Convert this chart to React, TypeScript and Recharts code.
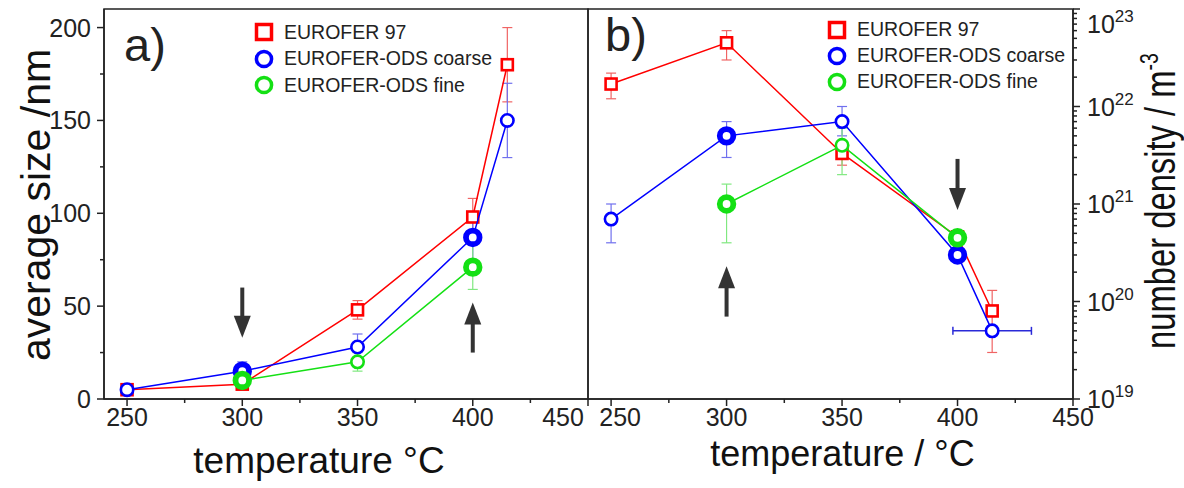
import React from 'react'
import {
  ErrorBar,
  Legend,
  ReferenceArea,
  ReferenceLine,
  Scatter,
  ScatterChart,
  XAxis,
  YAxis,
} from 'recharts'

// Two-panel figure: a) average precipitate size, b) number density (log),
// both against annealing temperature. Each panel is its own ScatterChart,
// butted together so the frames share the divider at x = 588.

const FONT = '"Liberation Sans", Arial, Helvetica, sans-serif'
const INK = '#222'
const RED = '#ff0000'
const BLUE = '#0000ff'
const GREEN = '#14e014'

const NAMES = ['EUROFER 97', 'EUROFER-ODS coarse', 'EUROFER-ODS fine']

// temperatures (°C)
const T_ALL = [250, 300, 350, 400, 415]
const T_FINE = [300, 350, 400]
// the ODS samples marked by the arrows are drawn with heavy rings
const BOLD_T = [300, 400]

// a) average size /nm  (symmetric errors)
const SIZE_E97 = [5, 8, 48, 98, 180]
const SIZE_E97_ERR = [0, 1, 5, 10, 20]
const SIZE_COARSE = [5, 15, 28, 87, 150]
const SIZE_COARSE_ERR = [1, 5, 7, 12, 20]
const SIZE_FINE = [10, 20, 71]
const SIZE_FINE_ERR = [3, 5, 12]

// b) number density / m^-3  (lower and upper error bounds)
const DENS_E97 = [1.7e22, 4.5e22, 3.3e21, 4.6e20, 8e19]
const DENS_E97_LO = [1.2e22, 3e22, 2.5e21, 4e20, 3e19]
const DENS_E97_HI = [2.2e22, 6e22, 4e21, 5.2e20, 1.3e20]
const DENS_COARSE = [7e20, 5e21, 7e21, 3e20, 5e19]
const DENS_COARSE_LO = [4e20, 3e21, 5e21, 2.6e20, 5e19]
const DENS_COARSE_HI = [1e21, 7e21, 1e22, 3.5e20, 5e19]
const DENS_COARSE_T_ERR = [0, 0, 0, 0, 17]
const DENS_FINE = [1e21, 4e21, 4.5e20]
const DENS_FINE_LO = [4e20, 2e21, 4e20]
const DENS_FINE_HI = [1.6e21, 6e21, 5.1e20]

// arrows: temperature, tail value, tip value
const SIZE_ARROWS = [
  { t: 300, from: 60, to: 33 },
  { t: 400, from: 25, to: 52 },
]
const DENS_ARROWS = [
  { t: 300, from: 7e19, to: 2.3e20 },
  { t: 400, from: 2.9e21, to: 8.7e20 },
]

// axes
const X_MAJOR = [250, 300, 350, 400, 450]
const X_MINOR = [275, 325, 375, 425]
const SIZE_MAJOR = [0, 50, 100, 150, 200]
const SIZE_MINOR = [25, 75, 125, 175]
const DENS_MAJOR = [1e19, 1e20, 1e21, 1e22, 1e23]
const DENS_MINOR_MULTS = [2, 3, 4, 5, 6, 7, 8, 9]

const X_TICKS = [...X_MAJOR, ...X_MINOR].sort((a, b) => a - b)
const SIZE_TICKS = [...SIZE_MAJOR, ...SIZE_MINOR].sort((a, b) => a - b)
const DENS_TICKS = [
  ...DENS_MAJOR,
  ...DENS_MAJOR.slice(0, -1).flatMap((d) => DENS_MINOR_MULTS.map((m) => m * d)),
].sort((a, b) => a - b)

const sizeRows = (temps: number[], vals: number[], errs: number[]) =>
  temps.map((t, i) => ({ t, v: vals[i], err: errs[i] }))

const densRows = (temps: number[], vals: number[], lo: number[], hi: number[], tErr?: number[]) =>
  temps.map((t, i) => ({
    t,
    v: vals[i],
    err: [vals[i] - lo[i], hi[i] - vals[i]],
    terr: tErr ? tErr[i] : 0,
  }))

const sizeE97 = sizeRows(T_ALL, SIZE_E97, SIZE_E97_ERR)
const sizeCoarse = sizeRows(T_ALL, SIZE_COARSE, SIZE_COARSE_ERR)
const sizeFine = sizeRows(T_FINE, SIZE_FINE, SIZE_FINE_ERR)
const densE97 = densRows(T_ALL, DENS_E97, DENS_E97_LO, DENS_E97_HI)
const densCoarse = densRows(T_ALL, DENS_COARSE, DENS_COARSE_LO, DENS_COARSE_HI, DENS_COARSE_T_ERR)
const densFine = densRows(T_FINE, DENS_FINE, DENS_FINE_LO, DENS_FINE_HI)

// ---- markers -------------------------------------------------------------

const squareMarker = (color: string) => (p: any) => {
  const { cx, cy } = p
  if (cx == null || cy == null) return <g />
  return (
    <rect x={cx - 5.5} y={cy - 5.5} width={11} height={11} fill="#fff" stroke={color} strokeWidth={2.6} />
  )
}

const ringMarker = (color: string) => (p: any) => {
  const { cx, cy, payload } = p
  if (cx == null || cy == null) return <g />
  const bold = BOLD_T.includes(payload?.t)
  return bold ? (
    <circle cx={cx} cy={cy} r={6.8} fill="#fff" stroke={color} strokeWidth={5.8} />
  ) : (
    <circle cx={cx} cy={cy} r={6.2} fill="#fff" stroke={color} strokeWidth={2.6} />
  )
}

const LEGEND_ICON: Record<string, React.ReactNode> = {
  [NAMES[0]]: <rect x={2.5} y={2.5} width={15} height={15} fill="none" stroke={RED} strokeWidth={3.5} />,
  [NAMES[1]]: <circle cx={10} cy={10} r={7.6} fill="none" stroke={BLUE} strokeWidth={3.5} />,
  [NAMES[2]]: <circle cx={10} cy={10} r={7.6} fill="none" stroke={GREEN} strokeWidth={3.5} />,
}

function LegendBox({ payload, rowHeight }: any) {
  return (
    <div style={{ fontFamily: FONT, fontSize: 19.5, color: INK, lineHeight: 1 }}>
      {(payload ?? []).map((entry: any) => (
        <div key={entry.value} style={{ display: 'flex', alignItems: 'center', height: rowHeight }}>
          <svg width={20} height={20} style={{ flex: 'none' }}>
            {LEGEND_ICON[entry.value]}
          </svg>
          <span style={{ marginLeft: 10, whiteSpace: 'nowrap' }}>{entry.value}</span>
        </div>
      ))}
    </div>
  )
}

// ---- ticks ---------------------------------------------------------------

function XTick({ x, y, payload, shift }: any) {
  const v = payload.value
  const major = X_MAJOR.includes(v)
  const dx = shift?.[v] ?? 0
  return (
    <g>
      <line x1={x} y1={y} x2={x} y2={y + (major ? 7 : 4)} stroke={INK} strokeWidth={1.5} />
      {major && (
        <text x={x + dx} y={y + 27} textAnchor="middle" fontSize={25} fontFamily={FONT} fill={INK}>
          {v}
        </text>
      )}
    </g>
  )
}

function SizeTick({ x, y, payload }: any) {
  const v = payload.value
  const major = SIZE_MAJOR.includes(v)
  return (
    <g>
      <line x1={x} y1={y} x2={x - (major ? 7 : 4)} y2={y} stroke={INK} strokeWidth={1.5} />
      {major && (
        <text x={x - 13} y={y + 9} textAnchor="end" fontSize={25} fontFamily={FONT} fill={INK}>
          {v}
        </text>
      )}
    </g>
  )
}

function DensTick({ x, y, payload }: any) {
  const v = payload.value
  const major = DENS_MAJOR.includes(v)
  const exp = Math.round(Math.log10(v))
  // the top label sits below its tick so it stays inside the frame height
  const dy = v === DENS_MAJOR[DENS_MAJOR.length - 1] ? 15 : 0
  return (
    <g>
      <line x1={x} y1={y} x2={x + (major ? 7 : 4)} y2={y} stroke={INK} strokeWidth={1.5} />
      {major && (
        <text x={x + 14} y={y + 9 + dy} fontSize={25} fontFamily={FONT} fill={INK}>
          10
          <tspan dy={-11} fontSize={17}>
            {exp}
          </tspan>
        </text>
      )}
    </g>
  )
}

// ---- arrows and titles ---------------------------------------------------

function Arrow(p: any) {
  const { x1, y1, x2, y2 } = p
  if ([x1, y1, x2, y2].some((n) => n == null || Number.isNaN(n))) return <g />
  const dir = Math.sign(y2 - y1)
  const head = 22
  const half = 8.5
  const baseY = y2 - dir * head
  return (
    <g>
      <line x1={x1} y1={y1} x2={x1} y2={baseY + dir * 2} stroke="#333" strokeWidth={4} />
      <polygon points={`${x2},${y2} ${x2 - half},${baseY} ${x2 + half},${baseY}`} fill="#333" />
    </g>
  )
}

const xTitle = (text: string, dx: number, dy: number, size: number) => (p: any) => {
  const vb = p.viewBox ?? { x: 0, y: 0 }
  return (
    <text x={vb.x + dx} y={vb.y + dy} textAnchor="middle" fontSize={size} fontFamily={FONT} fill="#111">
      {text}
    </text>
  )
}

const sizeTitle = (p: any) => {
  const vb = p.viewBox ?? { x: 0, y: 0 }
  const tx = vb.x + 50
  const ty = vb.y + 196
  return (
    <text transform={`translate(${tx},${ty}) rotate(-90)`} textAnchor="middle" fontSize={41} fontFamily={FONT} fill="#111">
      average size /nm
    </text>
  )
}

const densTitle = (p: any) => {
  const vb = p.viewBox ?? { x: 0, y: 0 }
  const tx = vb.x + 102
  const ty = vb.y + 192
  return (
    <text
      transform={`translate(${tx},${ty}) rotate(-90) scale(0.78,1)`}
      textAnchor="middle"
      fontSize={42}
      fontFamily={FONT}
      fill="#111"
    >
      number density / m
      <tspan dy={-17} fontSize={25}>
        -3
      </tspan>
    </text>
  )
}

const panelLabel = (text: string, x: number, y: number) => (
  <text x={x} y={y} fontSize={47} fontFamily={FONT} fill="#222">
    {text}
  </text>
)

const axisLine = { stroke: INK, strokeWidth: 1.5 }
const frame = { fill: 'none', stroke: INK, strokeWidth: 1.5, fillOpacity: 1 }

export default function App() {
  return (
    <div style={{ position: 'absolute', left: 0, top: 0, width: 1184, height: 488, background: '#fff' }}>
      {/* a) average size */}
      <div style={{ position: 'absolute', left: 0, top: 0 }}>
        <ScatterChart width={592} height={488} margin={{ top: 9, right: 4, bottom: 0, left: 0 }}>
          <XAxis
            dataKey="t"
            type="number"
            domain={[240, 450]}
            ticks={X_TICKS}
            interval={0}
            tickSize={0}
            tickMargin={0}
            tickLine={false}
            axisLine={axisLine}
            height={89}
            tick={(p: any) => <XTick {...p} shift={{ 450: -25 }} />}
            label={xTitle('temperature °C', 215, 74, 37)}
          />
          <YAxis
            dataKey="v"
            type="number"
            domain={[0, 210]}
            ticks={SIZE_TICKS}
            interval={0}
            tickSize={0}
            tickMargin={0}
            tickLine={false}
            axisLine={axisLine}
            width={104}
            tick={(p: any) => <SizeTick {...p} />}
            label={sizeTitle}
          />
          <ReferenceArea x1={240} x2={450} y1={0} y2={210} {...frame} />
          <Scatter name={NAMES[0]} data={sizeE97} line={{ stroke: RED, strokeWidth: 1.5 }} lineType="joint" fill={RED} shape={squareMarker(RED)} isAnimationActive={false}>
            <ErrorBar dataKey="err" direction="y" width={5} stroke="#f06464" strokeWidth={1.2} />
          </Scatter>
          <Scatter name={NAMES[1]} data={sizeCoarse} line={{ stroke: BLUE, strokeWidth: 1.5 }} lineType="joint" fill={BLUE} shape={ringMarker(BLUE)} isAnimationActive={false}>
            <ErrorBar dataKey="err" direction="y" width={5} stroke="#7070ee" strokeWidth={1.2} />
          </Scatter>
          <Scatter name={NAMES[2]} data={sizeFine} line={{ stroke: GREEN, strokeWidth: 1.5 }} lineType="joint" fill={GREEN} shape={ringMarker(GREEN)} isAnimationActive={false}>
            <ErrorBar dataKey="err" direction="y" width={5} stroke="#80e880" strokeWidth={1.2} />
          </Scatter>
          {SIZE_ARROWS.map((a) => (
            <ReferenceLine key={a.t} segment={[{ x: a.t, y: a.from }, { x: a.t, y: a.to }]} shape={Arrow} />
          ))}
          <Legend
            layout="vertical"
            align="center"
            verticalAlign="middle"
            wrapperStyle={{ left: 254, top: 19, width: 260, height: 'auto' }}
            content={(p: any) => <LegendBox {...p} rowHeight={26.5} />}
          />
          {panelLabel('a)', 124, 61)}
        </ScatterChart>
      </div>

      {/* b) number density */}
      <div style={{ position: 'absolute', left: 584, top: 0 }}>
        <ScatterChart width={600} height={488} margin={{ top: 9, right: 0, bottom: 0, left: 4 }}>
          <XAxis
            dataKey="t"
            type="number"
            domain={[240, 450]}
            ticks={X_TICKS}
            interval={0}
            tickSize={0}
            tickMargin={0}
            tickLine={false}
            axisLine={axisLine}
            height={89}
            tick={(p: any) => <XTick {...p} shift={{ 250: 9 }} />}
            label={xTitle('temperature / °C', 254.5, 67, 36)}
          />
          <YAxis
            dataKey="v"
            type="number"
            orientation="right"
            scale="log"
            domain={[1e19, 1e23]}
            allowDataOverflow
            ticks={DENS_TICKS}
            interval={0}
            tickSize={0}
            tickMargin={0}
            tickLine={false}
            axisLine={axisLine}
            width={111}
            tick={(p: any) => <DensTick {...p} />}
            label={densTitle}
          />
          <ReferenceArea x1={240} x2={450} y1={1e19} y2={1e23} {...frame} />
          <Scatter name={NAMES[0]} data={densE97} line={{ stroke: RED, strokeWidth: 1.5 }} lineType="joint" fill={RED} shape={squareMarker(RED)} isAnimationActive={false}>
            <ErrorBar dataKey="err" direction="y" width={5} stroke="#f06464" strokeWidth={1.2} />
          </Scatter>
          <Scatter name={NAMES[1]} data={densCoarse} line={{ stroke: BLUE, strokeWidth: 1.5 }} lineType="joint" fill={BLUE} shape={ringMarker(BLUE)} isAnimationActive={false}>
            <ErrorBar dataKey="err" direction="y" width={5} stroke="#7070ee" strokeWidth={1.2} />
            <ErrorBar dataKey="terr" direction="x" width={4} stroke="#2a2ad8" strokeWidth={1.5} />
          </Scatter>
          <Scatter name={NAMES[2]} data={densFine} line={{ stroke: GREEN, strokeWidth: 1.5 }} lineType="joint" fill={GREEN} shape={ringMarker(GREEN)} isAnimationActive={false}>
            <ErrorBar dataKey="err" direction="y" width={5} stroke="#80e880" strokeWidth={1.2} />
          </Scatter>
          {DENS_ARROWS.map((a) => (
            <ReferenceLine key={a.t} segment={[{ x: a.t, y: a.from }, { x: a.t, y: a.to }]} shape={Arrow} />
          ))}
          <Legend
            layout="vertical"
            align="center"
            verticalAlign="middle"
            wrapperStyle={{ left: 243, top: 17, width: 260, height: 'auto' }}
            content={(p: any) => <LegendBox {...p} rowHeight={26} />}
          />
          {panelLabel('b)', 21, 51)}
        </ScatterChart>
      </div>
    </div>
  )
}
